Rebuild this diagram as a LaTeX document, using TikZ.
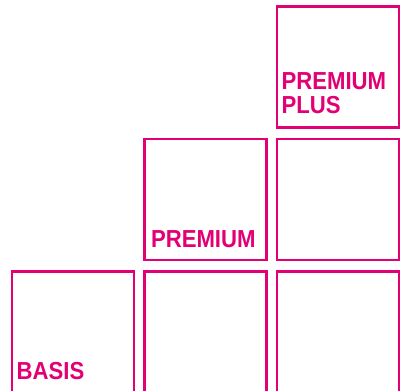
\documentclass[tikz,border=0pt]{standalone}
\usepackage{fontspec}
\setmainfont{Liberation Sans}[FakeStretch=0.9]
\definecolor{tmagenta}{HTML}{E20074}
\begin{document}
\begin{tikzpicture}[x=1bp,y=1bp,
  tile/.style={draw=tmagenta,line width=2.2bp,minimum width=122bp,minimum height=121bp,inner sep=0pt,outer sep=0pt},
  tlabel/.style={text=tmagenta,font=\bfseries\fontsize{24.7}{24}\selectfont,inner sep=0pt,outer sep=0pt,anchor=base west,align=left}]
\useasboundingbox (0,0) rectangle (404,391);
\clip (0,0) rectangle (404,391);
% bottom row
\node[tile] (b1) at (73,59) {};
\node[tile] (b2) at (205.5,59) {};
\node[tile] (b3) at (338,59) {};
% middle row
\node[tile] (m2) at (205.5,191.5) {};
\node[tile] (m3) at (338,191.5) {};
% top row
\node[tile] (t3) at (338,324) {};
% labels
\node[tlabel] (basis) at (16.7,11.7) {BASIS};
\node[tlabel] (premium) at (151,143.7) {PREMIUM};
\node[tlabel] (plus) at (281.6,277.7) {PREMIUM\\PLUS};
\end{tikzpicture}
\end{document}
